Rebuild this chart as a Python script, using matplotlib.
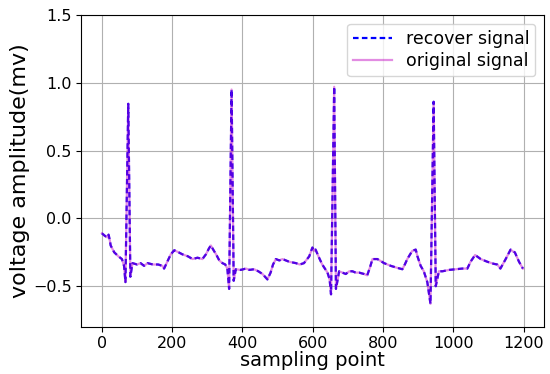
import matplotlib
matplotlib.use("Agg")
import matplotlib.pyplot as plt

# sample index and amplitude (mV)
sample_idx = [0, 9, 16, 19, 22, 25, 35, 47, 57, 63, 67, 75, 81, 87, 100, 110,
              120, 130, 145, 160, 172, 177, 186, 196, 206, 218, 229, 245, 258,
              272, 286, 296, 305, 310, 319, 326, 334, 343, 351, 357, 362, 369,
              375, 381, 395, 410, 420, 433, 445, 457, 471, 480, 487, 495, 505,
              514, 533, 552, 563, 575, 590, 599, 604, 608, 618, 627, 642, 648,
              652, 661, 666, 671, 675, 694, 704, 713, 722, 732, 746, 755, 763,
              770, 784, 803, 822, 841, 855, 862, 869, 883, 893, 898, 907, 916,
              926, 935, 944, 950, 959, 969, 988, 1007, 1026, 1040, 1049, 1062,
              1078, 1097, 1115, 1125, 1134, 1149, 1163, 1170, 1175, 1187, 1198]
original = [-0.11, -0.13, -0.14, -0.12, -0.155, -0.20, -0.25, -0.28, -0.30,
            -0.35, -0.47, 0.845, -0.43, -0.33, -0.34, -0.33, -0.35, -0.33,
            -0.34, -0.34, -0.35, -0.37, -0.32, -0.265, -0.235, -0.25, -0.265,
            -0.28, -0.30, -0.29, -0.30, -0.265, -0.22, -0.20, -0.24, -0.27,
            -0.31, -0.33, -0.34, -0.37, -0.52, 0.95, -0.46, -0.375, -0.38,
            -0.37, -0.38, -0.375, -0.39, -0.41, -0.45, -0.40, -0.34, -0.30,
            -0.31, -0.30, -0.32, -0.33, -0.34, -0.33, -0.28, -0.215, -0.24,
            -0.23, -0.29, -0.34, -0.40, -0.45, -0.56, 0.97, -0.52, -0.45,
            -0.39, -0.41, -0.39, -0.39, -0.40, -0.40, -0.41, -0.42, -0.36,
            -0.30, -0.30, -0.33, -0.35, -0.365, -0.375, -0.34, -0.30, -0.24,
            -0.23, -0.28, -0.35, -0.39, -0.47, -0.63, 0.86, -0.50, -0.39,
            -0.39, -0.38, -0.375, -0.37, -0.37, -0.32, -0.27, -0.30, -0.32,
            -0.335, -0.34, -0.37, -0.30, -0.23, -0.245, -0.25, -0.32, -0.37]
recovered = list(original)

fig, ax = plt.subplots(figsize=(5.5, 3.74), dpi=100)
fig.subplots_adjust(left=0.147, right=0.989, top=0.96, bottom=0.126)

ax.plot(sample_idx, recovered, 'b--', lw=1.6, dashes=(2.5, 1.5), label='recover signal')
ax.plot(sample_idx, original, color='m', alpha=0.45, lw=1.6, label='original signal')

ax.set_ylim(-0.8, 1.5)
ax.set_xticks([0, 200, 400, 600, 800, 1000, 1200])
ax.set_yticks([-0.5, 0.0, 0.5, 1.0, 1.5])
ax.tick_params(labelsize=11.5, pad=3)
ax.grid(True)
ax.set_xlabel('sampling point', fontsize=14, labelpad=0)
ax.set_ylabel('voltage amplitude(mv)', fontsize=16, labelpad=2)
ax.legend(loc='upper right', fontsize=12.5, labelspacing=0.25,
          borderpad=0.35, handlelength=2.2)

plt.savefig('out.png')
